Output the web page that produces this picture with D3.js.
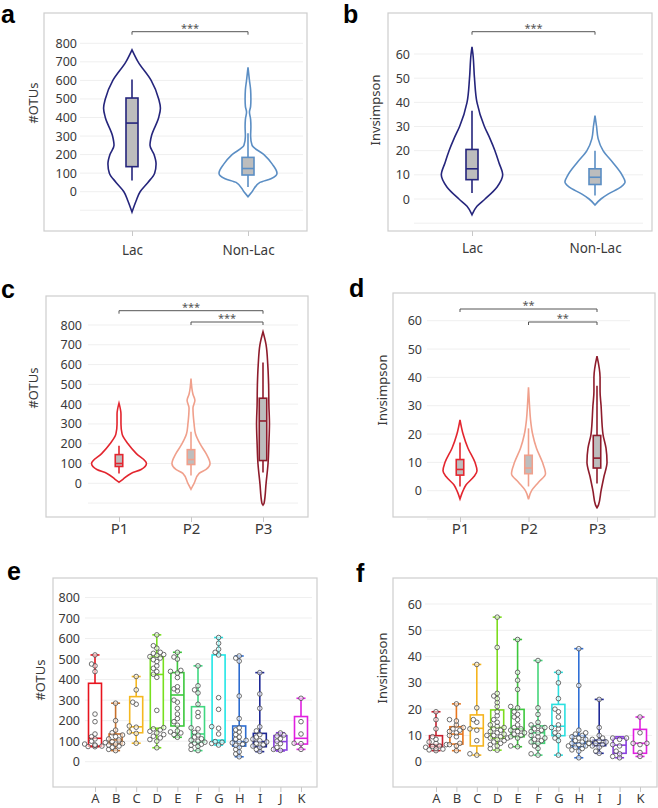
<!DOCTYPE html>
<html>
<head>
<meta charset="utf-8">
<script src="https://cdn.jsdelivr.net/npm/d3@7"></script>
<style>
  body { margin: 0; background: #fff; }
</style>
</head>
<body>
<svg id="fig" width="658" height="808"></svg>
<script>
/////////////////// data ///////////////////
const groupsLac = ["Lac", "Non-Lac"];
const groupsP = ["P1", "P2", "P3"];
const sites = ["A", "B", "C", "D", "E", "F", "G", "H", "I", "J", "K"];

const otuTicks = [0, 100, 200, 300, 400, 500, 600, 700, 800];
const otuGrid = [-100, 0, 100, 200, 300, 400, 500, 600, 700, 800];
const invTicks = [0, 10, 20, 30, 40, 50, 60];
const invGrid = [-10, 0, 10, 20, 30, 40, 50, 60];

// violin outlines: value levels + relative density (0..1)
const otuLacLevels = [765, 700, 600, 500, 450, 400, 300, 250, 200, 150, 100, 50, 0, -50, -110];
const otuLacDensity = [0, 0.21, 0.66, 0.92, 0.98, 0.92, 0.67, 0.62, 0.76, 0.83, 0.78, 0.55, 0.28, 0.14, 0];
const otuNonLevels = [670, 600, 550, 500, 460, 430, 390, 350, 300, 250, 200, 150, 100, 70, 50, 0, -27];
const otuNonDensity = [0, 0.05, 0.09, 0.1, 0.09, 0.05, 0.09, 0.1, 0.09, 0.14, 0.55, 0.83, 1.0, 0.79, 0.41, 0.14, 0];

const invLacLevels = [63, 60, 50, 40, 30, 25, 20, 15, 10, 5, 0, -3, -6.5];
const invLacDensity = [0, 0.03, 0.08, 0.16, 0.4, 0.58, 0.74, 0.87, 0.99, 0.81, 0.42, 0.16, 0];
const invNonLevels = [34.5, 30, 25, 20, 15, 10, 7, 5, 2, 0, -2.5];
const invNonDensity = [0, 0.05, 0.1, 0.26, 0.58, 0.87, 0.97, 0.84, 0.42, 0.19, 0];

const otuP1Levels = [405, 350, 300, 250, 200, 150, 100, 70, 50, 20, 5];
const otuP1Density = [0, 0.07, 0.07, 0.11, 0.32, 0.62, 0.98, 0.79, 0.43, 0.14, 0];
const otuP2Levels = [530, 450, 420, 380, 300, 250, 200, 150, 100, 70, 50, 0, -30];
const otuP2Density = [0, 0.07, 0.14, 0.07, 0.11, 0.16, 0.32, 0.54, 0.68, 0.54, 0.29, 0.11, 0];
const otuP3Levels = [766, 700, 600, 500, 400, 300, 200, 100, 0, -100, -110];
const otuP3Density = [0, 0.11, 0.17, 0.2, 0.21, 0.23, 0.21, 0.18, 0.11, 0.04, 0];

const invP1Levels = [25, 20, 15, 10, 7, 5, 2, 0, -2.9];
const invP1Density = [0, 0.18, 0.47, 0.88, 1, 0.82, 0.35, 0.18, 0];
const invP2Levels = [36.5, 30, 25, 20, 15, 10, 6, 3, 0, -3];
const invP2Density = [0, 0.06, 0.12, 0.24, 0.47, 0.82, 1, 0.59, 0.18, 0];
const invP3Levels = [47.5, 40, 35, 30, 20, 15, 10, 5, 0, -5, -6];
const invP3Density = [0, 0.18, 0.18, 0.24, 0.35, 0.53, 0.59, 0.41, 0.24, 0.09, 0];

// box stats: [low whisker, q1, median, q3, high whisker]
const otuLacBoxes = [[60, 135, 370, 505, 605], [25, 90, 125, 185, 315]];
const invLacBoxes = [[2.5, 8, 12.5, 20.5, 36.5], [1.5, 6, 9, 12.5, 20]];
const otuPBoxes = [[50, 85, 100, 145, 190], [40, 95, 120, 170, 260], [55, 115, 315, 430, 610]];
const invPBoxes = [[1.5, 5.5, 7.5, 11, 17], [1.5, 6, 8, 12.5, 22], [2.5, 8, 11.5, 19.5, 37]];

const otuSiteBoxes = [
  [73, 76, 114, 382, 520], [54, 86, 106, 135, 285], [90, 141, 170, 317, 415],
  [68, 163, 425, 512, 618], [119, 174, 325, 434, 533], [54, 95, 135, 268, 467],
  [81, 95, 105, 520, 605], [24, 76, 98, 174, 515], [49, 73, 98, 138, 434],
  [52, 57, 98, 127, 141], [60, 86, 114, 220, 309]
];
const otuSitePoints = [
  [520, 476, 467, 439, 232, 195, 135, 122, 111, 100, 86, 81, 80, 76, 74, 73],
  [285, 200, 154, 141, 130, 122, 111, 106, 98, 93, 89, 86, 81, 76, 70, 60, 54],
  [415, 350, 290, 280, 174, 168, 145, 138, 90],
  [618, 565, 553, 533, 528, 522, 518, 512, 505, 497, 488, 467, 455, 439, 426, 411, 250, 166, 160, 155, 148, 140, 132, 124, 116, 108, 100, 68],
  [533, 510, 500, 445, 440, 432, 410, 365, 355, 345, 300, 290, 260, 232, 210, 195, 178, 150, 145, 140, 132, 119],
  [467, 370, 350, 335, 280, 240, 220, 165, 160, 142, 130, 120, 112, 105, 100, 95, 90, 85, 80, 75, 60, 54],
  [605, 577, 548, 533, 520, 312, 255, 171, 163, 135, 98, 95, 89, 81],
  [515, 505, 490, 320, 210, 165, 155, 145, 132, 120, 110, 104, 98, 92, 85, 80, 70, 60, 48, 38, 24],
  [434, 330, 260, 170, 150, 132, 120, 110, 102, 96, 90, 82, 76, 70, 60, 50],
  [140, 130, 125, 112, 100, 88, 70, 60, 55],
  [309, 195, 135, 90, 88, 60]
];

const invSiteBoxes = [
  [4.2, 5.7, 6.5, 9.9, 19], [4.2, 6.7, 10.5, 13.3, 22], [2.5, 6, 12.7, 17.8, 37],
  [4.4, 8.9, 13, 19.7, 55], [5.7, 9.5, 12.5, 19.9, 46.5], [2.5, 7, 11, 13.6, 38.5],
  [2.5, 9.9, 13.5, 21.8, 34], [1.5, 5.7, 7, 9.9, 43], [3.2, 6.1, 7, 8.2, 23.7],
  [1.5, 3.2, 6.3, 8.9, 9.5], [2, 3.2, 7, 12.3, 17]
];
const invSitePoints = [
  [19, 16, 12.5, 9.5, 8.5, 7.5, 7, 6.5, 6, 5.8, 5.5, 5, 4.8, 4.5, 4.2],
  [22, 16, 15.5, 14, 13, 12.5, 12, 11.5, 11, 10, 9.5, 7, 6.5, 6, 4.2],
  [37, 20.5, 16, 15, 12.5, 12, 8, 3, 2.5],
  [55, 43.5, 26, 25, 24, 22.5, 21, 19, 17.5, 16, 15, 14, 13.5, 13, 12.5, 12, 11.5, 11, 10.5, 10, 10, 9.5, 9, 9, 8.5, 8, 7.5, 7, 6.5, 6, 5, 4.4],
  [46.5, 34, 31, 27.5, 21, 20.5, 19, 18, 17, 16, 14, 13, 12.5, 12, 11.5, 11, 10.5, 10, 9.5, 9, 6, 5.7],
  [38.5, 20.5, 18, 15, 14, 13.5, 13, 12.5, 12, 11.5, 11, 10, 9.5, 9, 8.5, 8, 7.5, 7, 6, 5, 3, 2.5],
  [34, 30, 24, 20, 19, 17, 14, 13, 12.5, 11, 10, 9, 8, 2.5],
  [43, 29, 12, 11, 10.5, 10, 9.5, 9, 8.5, 8, 7.5, 7, 7, 6.5, 6, 6, 5.5, 5, 4.5, 4, 1.5],
  [23.7, 13, 10, 9, 8.5, 8, 7.5, 7, 7, 6.5, 6, 5.5, 4, 3.2],
  [9, 9, 8.5, 6.5, 6, 4, 3, 2, 1.5],
  [17, 11, 7, 7, 6.5, 3.5, 2]
];

const lacColors = ["#25257c", "#5b8ec4"];
const pColors = ["#e3262f", "#f0a08c", "#8e1c2c"];
const otuSiteColors = ["#e8141e", "#c8702a", "#f5b820", "#78e01e", "#3cc83c", "#40d880", "#22e6e6", "#2c6cd0", "#1e2896", "#8a40e0", "#e020e0"];
const invSiteColors = ["#c8202e", "#e8761e", "#f5b41e", "#7ddc1e", "#3cc83c", "#45d57a", "#2be0e0", "#2f6fd6", "#1e2896", "#8a3ee0", "#e020e0"];

/////////////////// drawing ///////////////////
const FONT = "'Noto Sans', 'Open Sans', sans-serif";
const svg = d3.select("#fig");

function panel(p) {
  const g = svg.append("g");
  const y = d3.scaleLinear().domain([0, p.yMax]).range(p.yRange);
  const x = d3.scalePoint().domain(p.cats).range(p.xRange);
  const [fx0, fy0, fx1, fy1] = p.frame;

  g.append("rect")
    .attr("x", fx0).attr("y", fy0)
    .attr("width", fx1 - fx0).attr("height", fy1 - fy0)
    .attr("fill", "none").attr("stroke", "#cdcdcd").attr("stroke-width", 1.2);

  g.selectAll(".grid").data(p.grid).join("line")
    .attr("x1", p.gridX[0]).attr("x2", p.gridX[1])
    .attr("y1", d => y(d)).attr("y2", d => y(d))
    .attr("stroke", "#efefef").attr("stroke-width", 1);

  const ya = g.append("g")
    .attr("transform", `translate(${p.labelX},0)`)
    .call(d3.axisLeft(y).tickValues(p.ticks).tickSize(0).tickPadding(0));
  ya.select(".domain").remove();
  ya.attr("font-family", FONT).attr("font-size", 12.5);
  ya.selectAll("text").attr("fill", "#3a3a3a");

  const xa = g.append("g")
    .attr("transform", `translate(0,${fy1})`)
    .call(d3.axisBottom(x).tickSize(5).tickPadding(p.catPad));
  xa.select(".domain").remove();
  xa.attr("font-family", FONT).attr("font-size", p.catFont);
  xa.selectAll("line").attr("stroke", "#c8c8c8");
  xa.selectAll("text").attr("fill", "#3a3a3a");

  g.append("text")
    .attr("transform", `translate(${p.ylabelPos[0]},${p.ylabelPos[1]}) rotate(-90)`)
    .attr("text-anchor", "middle").attr("dy", "0.35em")
    .attr("font-family", FONT).attr("font-size", 13).attr("fill", "#3a3a3a")
    .text(p.ylabel);

  svg.append("text")
    .attr("x", p.letterPos[0]).attr("y", p.letterPos[1])
    .attr("font-family", "'Liberation Sans', Arial, sans-serif")
    .attr("font-weight", "bold").attr("font-size", 25).attr("fill", "#000")
    .text(p.letter);

  return { g, x, y };
}

function violin(P, cat, levels, dens, wmax, color) {
  const w = d3.scaleLinear().domain([0, 1]).range([0, wmax]);
  const pts = levels.map((v, i) => ({ v, d: dens[i] }));
  const cx = P.x(cat);
  const area = d3.area()
    .curve(d3.curveMonotoneY)
    .y(d => P.y(d.v))
    .x0(d => cx - w(d.d))
    .x1(d => cx + w(d.d));
  P.g.append("path").attr("d", area(pts))
    .attr("fill", "#fff").attr("stroke", color).attr("stroke-width", 1.6);
}

function grayBox(P, cat, s, bw, color) {
  const cx = P.x(cat);
  P.g.append("line")
    .attr("x1", cx).attr("x2", cx)
    .attr("y1", P.y(s[0])).attr("y2", P.y(s[4]))
    .attr("stroke", color).attr("stroke-width", 1.6);
  P.g.append("rect")
    .attr("x", cx - bw / 2).attr("width", bw)
    .attr("y", P.y(s[3])).attr("height", P.y(s[1]) - P.y(s[3]))
    .attr("fill", "#bdbdbd").attr("stroke", color).attr("stroke-width", 1.6);
  P.g.append("line")
    .attr("x1", cx - bw / 2).attr("x2", cx + bw / 2)
    .attr("y1", P.y(s[2])).attr("y2", P.y(s[2]))
    .attr("stroke", color).attr("stroke-width", 1.6);
}

function bracket(P, c1, c2, yy, label) {
  const x1 = P.x(c1), x2 = P.x(c2);
  P.g.append("path")
    .attr("d", `M${x1},${yy + 3}V${yy}H${x2}V${yy + 3}`)
    .attr("fill", "none").attr("stroke", "#555").attr("stroke-width", 1);
  P.g.append("text")
    .attr("x", (x1 + x2) / 2).attr("y", yy)
    .attr("text-anchor", "middle")
    .attr("font-family", FONT).attr("font-size", 11).attr("fill", "#555")
    .text(label);
}

// simple deterministic swarm so the dots do not pile up
function swarm(vals, y, r) {
  const placed = [];
  const cands = [0, -1, 1, -2, 2, -3, 3].map(k => k * r * 1.5);
  return vals.slice().sort((a, b) => a - b).map(v => {
    const py = y(v);
    let off = cands.find(o => placed.every(q => Math.hypot(q.o - o, q.py - py) >= 1.7 * r));
    if (off === undefined) off = 0;
    placed.push({ o: off, py });
    return { v, off };
  });
}

function siteBoxes(P, boxes, points, colors) {
  const bw = 13, cap = 9, r = 2.3;
  sites.forEach((cat, i) => {
    const s = boxes[i], cx = P.x(cat), col = colors[i];
    const gg = P.g.append("g");
    gg.append("line").attr("x1", cx).attr("x2", cx)
      .attr("y1", P.y(s[0])).attr("y2", P.y(s[4]))
      .attr("stroke", col).attr("stroke-width", 1.6);
    [s[0], s[4]].forEach(v => {
      gg.append("line").attr("x1", cx - cap / 2).attr("x2", cx + cap / 2)
        .attr("y1", P.y(v)).attr("y2", P.y(v))
        .attr("stroke", col).attr("stroke-width", 1.6);
    });
    gg.append("rect")
      .attr("x", cx - bw / 2).attr("width", bw)
      .attr("y", P.y(s[3])).attr("height", P.y(s[1]) - P.y(s[3]))
      .attr("fill", "#fff").attr("stroke", col).attr("stroke-width", 1.6);
    gg.append("line").attr("x1", cx - bw / 2).attr("x2", cx + bw / 2)
      .attr("y1", P.y(s[2])).attr("y2", P.y(s[2]))
      .attr("stroke", col).attr("stroke-width", 1.6);
    gg.selectAll("circle").data(swarm(points[i], P.y, r)).join("circle")
      .attr("cx", d => cx + d.off).attr("cy", d => P.y(d.v)).attr("r", r)
      .attr("fill", "#fff").attr("fill-opacity", 0.6)
      .attr("stroke", "#4a4a4a").attr("stroke-width", 0.8);
  });
}

// ---- panel a ----
const pa = panel({
  letter: "a", letterPos: [1, 23], frame: [44, 13, 307, 231],
  yMax: 800, yRange: [191.7, 43.3], ticks: otuTicks, grid: otuGrid,
  gridX: [80, 303], labelX: 77, cats: groupsLac, xRange: [132, 248],
  catFont: 13.5, catPad: 9, ylabel: "#OTUs", ylabelPos: [33, 103]
});
violin(pa, "Lac", otuLacLevels, otuLacDensity, 29, lacColors[0]);
violin(pa, "Non-Lac", otuNonLevels, otuNonDensity, 29, lacColors[1]);
groupsLac.forEach((c, i) => grayBox(pa, c, otuLacBoxes[i], 12, lacColors[i]));
bracket(pa, "Lac", "Non-Lac", 31.7, "***");

// ---- panel b ----
const pb = panel({
  letter: "b", letterPos: [343, 23], frame: [388, 13, 652, 231],
  yMax: 60, yRange: [199, 54], ticks: invTicks, grid: invGrid,
  gridX: [414, 643], labelX: 410, cats: groupsLac, xRange: [472, 595],
  catFont: 13.5, catPad: 7, ylabel: "Invsimpson", ylabelPos: [375, 110]
});
violin(pb, "Lac", invLacLevels, invLacDensity, 31, lacColors[0]);
violin(pb, "Non-Lac", invNonLevels, invNonDensity, 31, lacColors[1]);
groupsLac.forEach((c, i) => grayBox(pb, c, invLacBoxes[i], 12, lacColors[i]));
bracket(pb, "Lac", "Non-Lac", 31.7, "***");

// ---- panel c ----
const pc = panel({
  letter: "c", letterPos: [1, 298], frame: [46, 296, 308, 517],
  yMax: 800, yRange: [483.3, 325], ticks: otuTicks, grid: otuGrid,
  gridX: [88, 298], labelX: 82, cats: groupsP, xRange: [119, 263],
  catFont: 15, catPad: 1, ylabel: "#OTUs", ylabelPos: [33, 388]
});
violin(pc, "P1", otuP1Levels, otuP1Density, 28, pColors[0]);
violin(pc, "P2", otuP2Levels, otuP2Density, 28, pColors[1]);
violin(pc, "P3", otuP3Levels, otuP3Density, 28, pColors[2]);
groupsP.forEach((c, i) => grayBox(pc, c, otuPBoxes[i], 7.5, pColors[i]));
bracket(pc, "P1", "P3", 310.7, "***");
bracket(pc, "P2", "P3", 322, "***");

// ---- panel d ----
const pd = panel({
  letter: "d", letterPos: [349, 297], frame: [393, 293, 655, 517],
  yMax: 60, yRange: [490.7, 320.7], ticks: invTicks, grid: invGrid,
  gridX: [427, 630], labelX: 422, cats: groupsP, xRange: [460, 597],
  catFont: 15, catPad: 1, ylabel: "Invsimpson", ylabelPos: [382, 390]
});
violin(pd, "P1", invP1Levels, invP1Density, 17, pColors[0]);
violin(pd, "P2", invP2Levels, invP2Density, 17, pColors[1]);
violin(pd, "P3", invP3Levels, invP3Density, 17, pColors[2]);
groupsP.forEach((c, i) => grayBox(pd, c, invPBoxes[i], 7.5, pColors[i]));
bracket(pd, "P1", "P3", 309, "**");
bracket(pd, "P2", "P3", 322, "**");

// ---- panel e ----
const pe = panel({
  letter: "e", letterPos: [7, 580], frame: [53, 578, 317, 787],
  yMax: 800, yRange: [761.7, 597.5], ticks: otuTicks, grid: otuTicks,
  gridX: [85, 312], labelX: 80, cats: sites, xRange: [95, 301],
  catFont: 13, catPad: 2, ylabel: "#OTUs", ylabelPos: [40, 680]
});
siteBoxes(pe, otuSiteBoxes, otuSitePoints, otuSiteColors);

// ---- panel f ----
const pf = panel({
  letter: "f", letterPos: [356, 582], frame: [393, 578, 657, 787],
  yMax: 60, yRange: [761.7, 604], ticks: invTicks, grid: invTicks,
  gridX: [425, 652], labelX: 422, cats: sites, xRange: [436, 640],
  catFont: 13, catPad: 2, ylabel: "Invsimpson", ylabelPos: [382, 668]
});
siteBoxes(pf, invSiteBoxes, invSitePoints, invSiteColors);
</script>
</body>
</html>
